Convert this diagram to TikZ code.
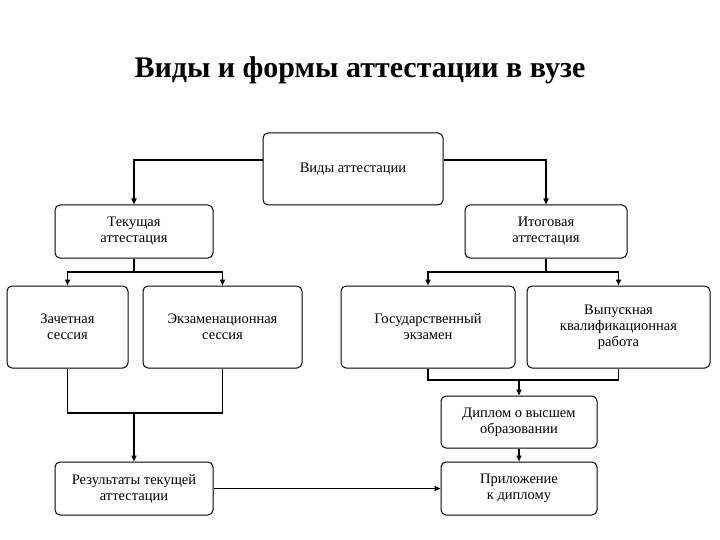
\documentclass[tikz,border=0pt]{standalone}
\usepackage{fontspec}
\setmainfont{Liberation Serif}
\usetikzlibrary{arrows.meta}
\begin{document}
\begin{tikzpicture}[x=1pt,y=-1pt,
  box/.style={draw,line width=1pt,rounded corners=5pt,align=center,font=\fontsize{14.5}{16}\selectfont,inner sep=0pt},
  ln/.style={line width=1.6pt},
  ar/.style={ln,-{Triangle[length=6pt,width=5pt]}}]
\useasboundingbox (0,0) rectangle (720,540);
\node[font=\bfseries\fontsize{30}{34}\selectfont] (title) at (360,70) {Виды и формы аттестации в вузе};
\node[box,minimum width=180,minimum height=72] (v) at (353,169) {Виды аттестации};
\node[box,minimum width=158,minimum height=53] (t) at (134,231.5) {Текущая\\аттестация};
\node[box,minimum width=162,minimum height=53] (i) at (546,231.5) {Итоговая\\аттестация};
\node[box,minimum width=121,minimum height=82] (z) at (67.5,327) {Зачетная\\сессия};
\node[box,minimum width=159,minimum height=82] (e) at (222.5,327) {Экзаменационная\\сессия};
\node[box,minimum width=174,minimum height=82] (g) at (428,327) {Государственный\\экзамен};
\node[box,minimum width=183,minimum height=82] (w) at (618.5,327) {Выпускная\\квалификационная\\работа};
\node[box,minimum width=156,minimum height=52] (d) at (519,422) {Диплом о высшем\\образовании};
\node[box,minimum width=158,minimum height=53] (r) at (134,488.5) {Результаты текущей\\аттестации};
\node[box,minimum width=156,minimum height=53] (p) at (519,488.5) {Приложение\\к диплому};
\coordinate (tj) at (134,272);
\coordinate (ij) at (546,272);
\coordinate (bj) at (134,413);
\coordinate (gj) at (519,380);
\draw[ar] (v.west |- 0,160) -| (t.north);
\draw[ar] (v.east |- 0,160) -| (i.north);
\draw[ln] (t.south) -- (tj);
\draw[ar] (tj) -| (z.north);
\draw[ar] (tj) -| (e.north);
\draw[ln] (i.south) -- (ij);
\draw[ar] (ij) -| (g.north);
\draw[ar] (ij) -| (w.north);
\draw[ln] (z.south) |- (bj) -| (e.south);
\draw[ar] (bj) -- (r.north);
\draw[ln] (g.south) |- (gj) -| (w.south);
\draw[ar] (gj) -- (d.north);
\draw[ar] (d.south) -- (p.north);
\draw[ar] (r.east) -- (p.west);
\end{tikzpicture}
\end{document}
